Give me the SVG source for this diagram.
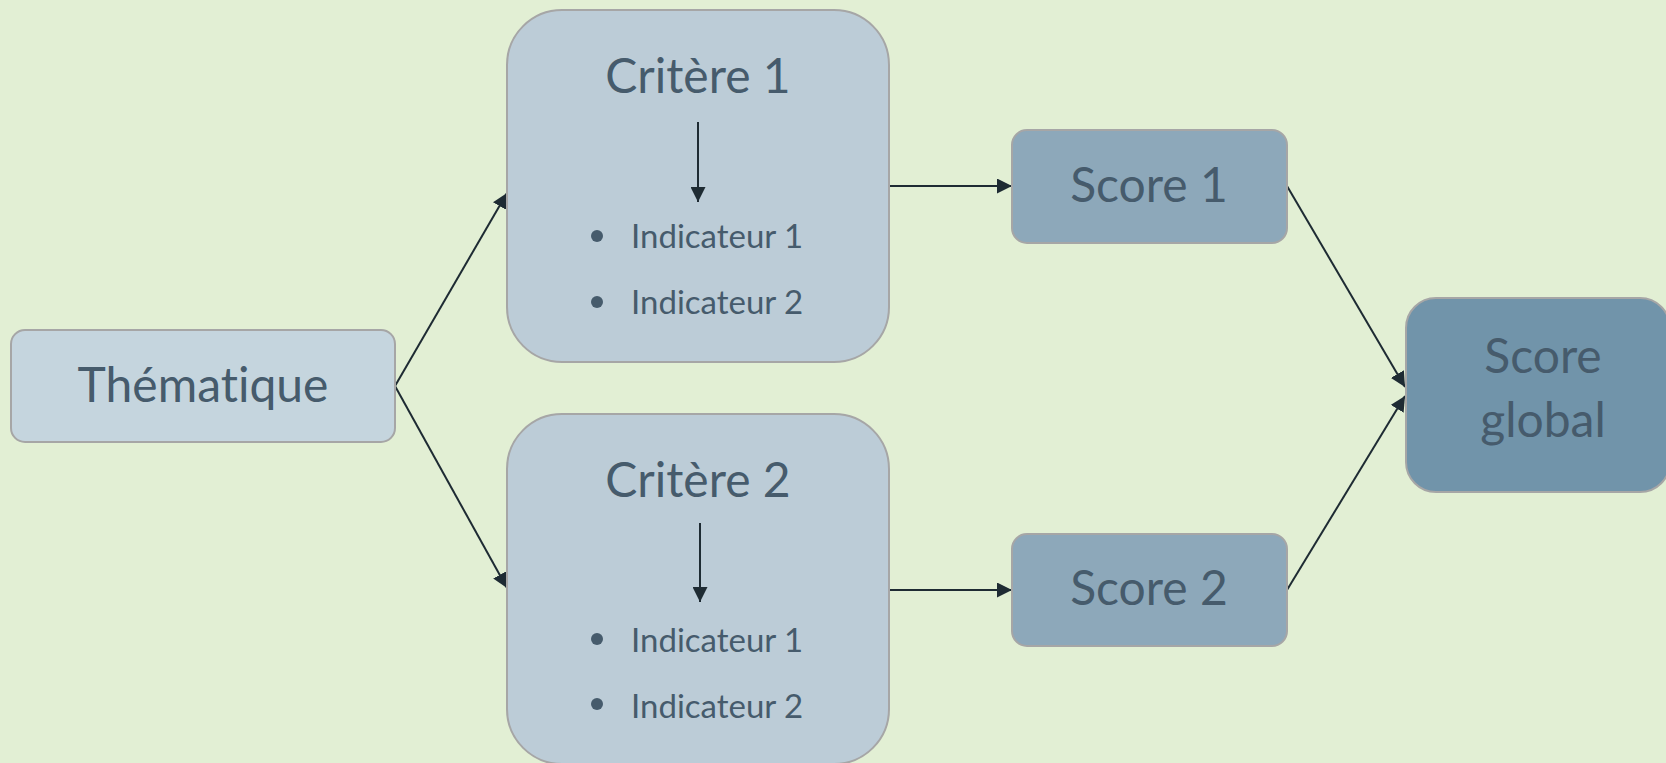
<svg xmlns="http://www.w3.org/2000/svg" width="1666" height="763" viewBox="0 0 1666 763">
  <defs>
    <marker id="arrow" viewBox="0 0 10 10" refX="10" refY="5" markerWidth="15" markerHeight="15" markerUnits="userSpaceOnUse" orient="auto">
      <path d="M0,0 L10,5 L0,10 Z" fill="#1E2B33"/>
    </marker>
    <style>
      .box { stroke: #A6A6A6; stroke-width: 2; }
      .t-main, .t-item { fill: #465B6C; font-family: Lato, "Open Sans", sans-serif; font-variant-ligatures: none; font-feature-settings: "liga" 0, "clig" 0; }
      .t-main { font-size: 48px; text-anchor: middle; }
      .t-item { font-size: 33px; }
      .dot { fill: #465B6C; }
      .conn { stroke: #1E2B33; stroke-width: 2; fill: none; marker-end: url(#arrow); }
    </style>
  </defs>

  <rect width="1666" height="763" fill="#E2EFD4"/>

  <g id="connectors">
    <line class="conn" x1="395" y1="386" x2="507" y2="193"/>
    <line class="conn" x1="395" y1="386" x2="507" y2="588"/>
    <line class="conn" x1="889" y1="186" x2="1012" y2="186"/>
    <line class="conn" x1="889" y1="590" x2="1012" y2="590"/>
    <line class="conn" x1="1287" y1="186" x2="1405" y2="387"/>
    <line class="conn" x1="1287" y1="590" x2="1405" y2="396"/>
  </g>

  <g id="thematique">
    <rect class="box" x="11" y="330" width="384" height="112" rx="14" fill="#C5D5DE"/>
    <text class="t-main" x="203" y="402">Thématique</text>
  </g>

  <g id="critere1">
    <rect class="box" x="507" y="10" width="382" height="352" rx="55" fill="#BCCCD7"/>
    <text class="t-main" x="698" y="93">Critère 1</text>
    <line class="conn" x1="698" y1="122" x2="698" y2="202"/>
    <circle class="dot" cx="597" cy="236" r="6"/>
    <text class="t-item" x="631" y="248">Indicateur 1</text>
    <circle class="dot" cx="597" cy="302" r="6"/>
    <text class="t-item" x="631" y="314">Indicateur 2</text>
  </g>

  <g id="critere2">
    <rect class="box" x="507" y="414" width="382" height="350" rx="55" fill="#BCCCD7"/>
    <text class="t-main" x="698" y="497">Critère 2</text>
    <line class="conn" x1="700" y1="523" x2="700" y2="602"/>
    <circle class="dot" cx="597" cy="639" r="6"/>
    <text class="t-item" x="631" y="652">Indicateur 1</text>
    <circle class="dot" cx="597" cy="704" r="6"/>
    <text class="t-item" x="631" y="718">Indicateur 2</text>
  </g>

  <g id="score1">
    <rect class="box" x="1012" y="130" width="275" height="113" rx="15" fill="#8DA8BA"/>
    <text class="t-main" x="1149" y="202">Score 1</text>
  </g>

  <g id="score2">
    <rect class="box" x="1012" y="534" width="275" height="112" rx="15" fill="#8DA8BA"/>
    <text class="t-main" x="1149" y="605">Score 2</text>
  </g>

  <g id="score-global">
    <rect class="box" x="1406" y="298" width="264" height="194" rx="30" fill="#7194AA"/>
    <text class="t-main" x="1543" y="373">Score</text>
    <text class="t-main" x="1543" y="437">global</text>
  </g>
</svg>
